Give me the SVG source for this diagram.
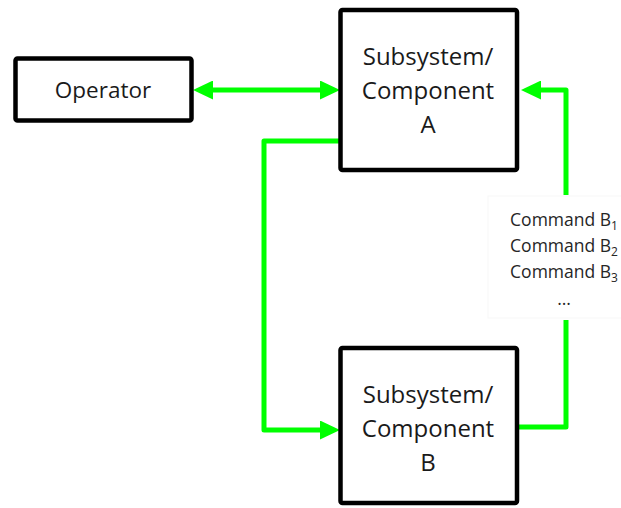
<svg xmlns="http://www.w3.org/2000/svg" width="621" height="508" viewBox="0 0 621 508">
  <style>
    .box { fill: #ffffff; stroke: #000000; stroke-width: 4.5; }
    .label { font-family: "Open Sans", "Liberation Sans", sans-serif; fill: #1a1a1a; text-anchor: middle; }
    .big { font-size: 24px; }
    .cmd { font-size: 17.5px; fill: #262626; }
    .sub { font-size: 12px; }
    .link { fill: none; stroke: #00ff00; stroke-width: 5; stroke-linejoin: round; stroke-linecap: butt; }
  </style>
  <defs>
    <marker id="arrow" viewBox="0 0 20 19" markerWidth="20" markerHeight="19" markerUnits="userSpaceOnUse" refX="2" refY="9.5" orient="auto-start-reverse">
      <path d="M0,0 L20,9.5 L0,19 z" fill="#00ff00"/>
    </marker>
  </defs>

  <rect width="621" height="508" fill="#ffffff"/>

  <!-- connectors -->
  <g id="connectors">
    <path class="link" d="M211,90 L322,90" marker-start="url(#arrow)" marker-end="url(#arrow)"/>
    <path class="link" d="M341,141 L264,141 L264,430 L322,430" marker-end="url(#arrow)"/>
    <path class="link" d="M566,195 L566,90 L539,90" marker-end="url(#arrow)"/>
    <path class="link" d="M566,320 L566,427 L519,427"/>
  </g>

  <!-- command list label on the return path -->
  <g id="commands">
    <rect x="488" y="196" width="134" height="122" fill="#ffffff" stroke="#f7f7f7" stroke-width="1"/>
    <text class="label cmd" x="564" y="226">Command B<tspan class="sub" dy="4">1</tspan></text>
    <text class="label cmd" x="564" y="252">Command B<tspan class="sub" dy="4">2</tspan></text>
    <text class="label cmd" x="564" y="278">Command B<tspan class="sub" dy="4">3</tspan></text>
    <text class="label cmd" x="564" y="305">…</text>
  </g>

  <g id="operator">
    <rect class="box" x="15.5" y="58.5" width="176" height="62" rx="2"/>
    <text class="label" x="103" y="98" font-size="22.5">Operator</text>
  </g>

  <g id="component-a">
    <rect class="box" x="340.5" y="10" width="176.5" height="160" rx="2"/>
    <text class="label big" x="428" y="65">Subsystem/</text>
    <text class="label big" x="428" y="99">Component</text>
    <text class="label big" x="428" y="133">A</text>
  </g>

  <g id="component-b">
    <rect class="box" x="340.5" y="348" width="176.5" height="155" rx="2"/>
    <text class="label big" x="428" y="403">Subsystem/</text>
    <text class="label big" x="428" y="437">Component</text>
    <text class="label big" x="428" y="471">B</text>
  </g>
</svg>
